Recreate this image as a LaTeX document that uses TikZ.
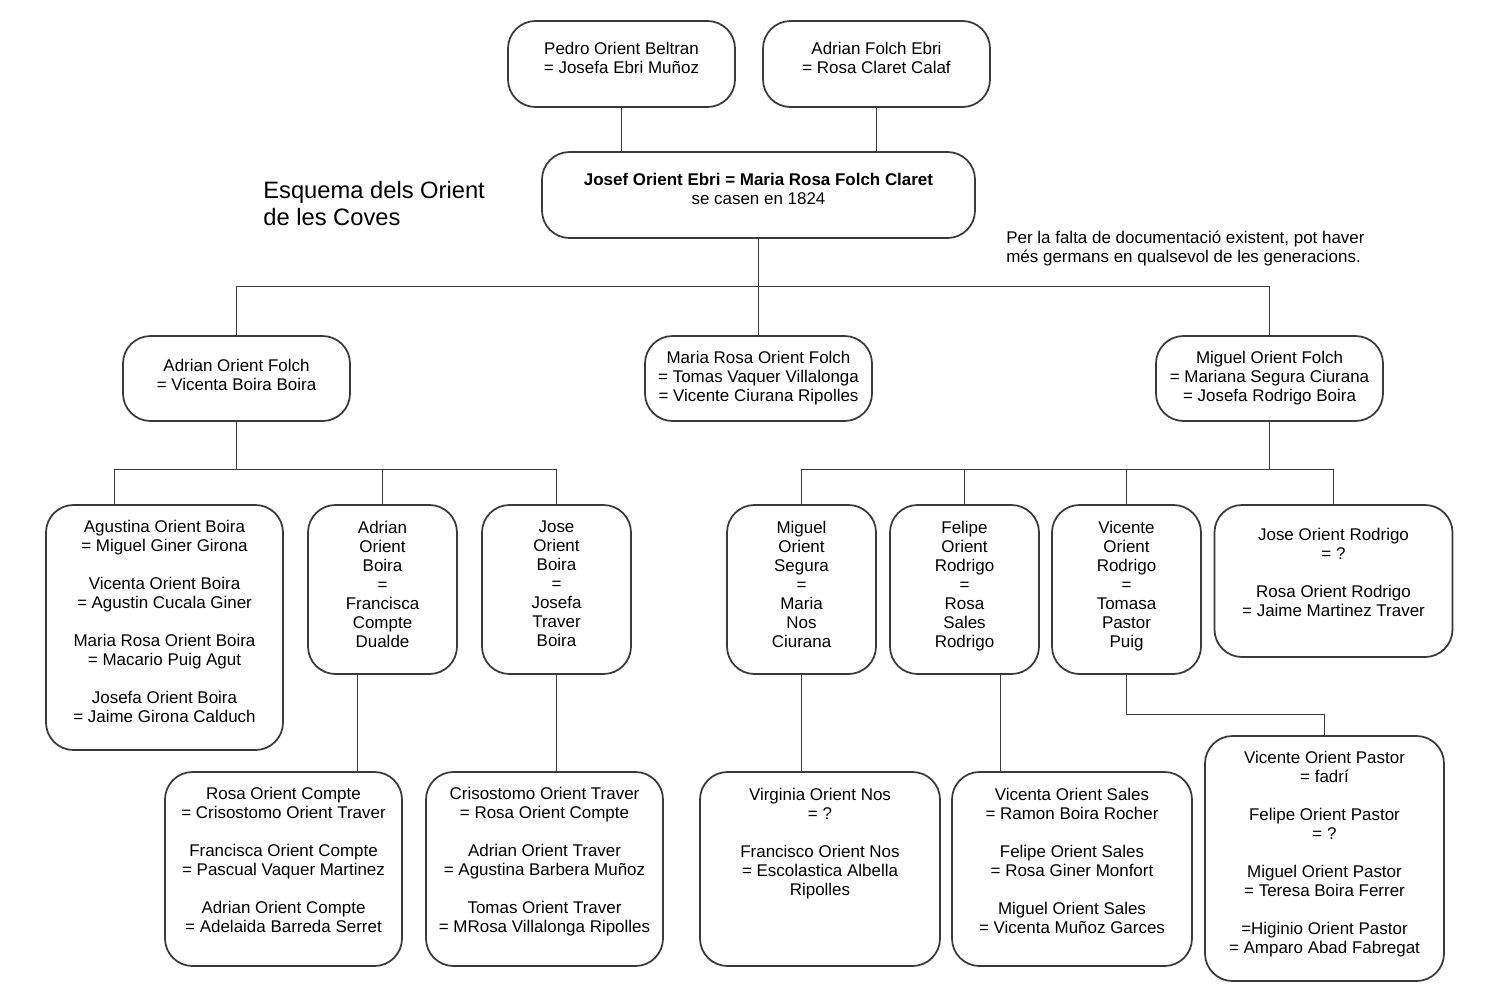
\documentclass[tikz,border=0pt]{standalone}
\usepackage{fontspec}
\setmainfont{Liberation Sans}
\definecolor{linegray}{HTML}{3A3A3A}
\tikzset{
  person/.style={draw=linegray, line width=0.35mm, rounded corners=5.5mm,
    align=center, inner sep=0pt, text depth=#1,
    font=\fontsize{9.65}{10.8}\selectfont},
  person/.default=2.4mm,
  link/.style={draw=linegray, line width=0.35mm},
  caption/.style={anchor=north west, align=left, inner sep=0pt}
}
\begin{document}
\begin{tikzpicture}[x=0.2mm, y=-0.2mm]
\useasboundingbox (0,0) rectangle (1500,1007);
% title and note
\node[caption, font=\fontsize{13.5}{15.3}\selectfont] (title) at (263,181) {Esquema dels Orient\\de les Coves};
\node[caption, font=\fontsize{9.65}{10.8}\selectfont] (note) at (1006,231) {Per la falta de documentació existent, pot haver\\més germans en qualsevol de les generacions.};
% grandparents
\node[person, minimum width=45.4mm, minimum height=17.2mm] (pedro) at (621.5,64) {Pedro Orient Beltran\\= Josefa Ebri Muñoz};
\node[person, minimum width=45.4mm, minimum height=17.2mm] (adrianfe) at (876.5,64) {Adrian Folch Ebri\\= Rosa Claret Calaf};
% couple
\node[person=2.6mm, minimum width=86.6mm, minimum height=17.2mm] (josef) at (758.5,195) {\textbf{Josef Orient Ebri = Maria Rosa Folch Claret}\\se casen en 1824};
% children
\node[person=1.6mm, minimum width=45.4mm, minimum height=17mm] (aof) at (236.5,378.5) {Adrian Orient Folch\\= Vicenta Boira Boira};
\node[person=1mm, minimum width=45.4mm, minimum height=17mm] (mariarosa) at (758.5,378.5) {Maria Rosa Orient Folch\\= Tomas Vaquer Villalonga\\= Vicente Ciurana Ripolles};
\node[person=1mm, minimum width=45.4mm, minimum height=17mm] (mof) at (1269.5,378.5) {Miguel Orient Folch\\= Mariana Segura Ciurana\\= Josefa Rodrigo Boira};
% grandchildren
\node[person=2.6mm, minimum width=47.4mm, minimum height=49mm] (agustina) at (164.5,627.5) {Agustina Orient Boira\\= Miguel Giner Girona\\[10.8pt]Vicenta Orient Boira\\= Agustin Cucala Giner\\[10.8pt]Maria Rosa Orient Boira\\= Macario Puig Agut\\[10.8pt]Josefa Orient Boira\\= Jaime Girona Calduch};
\node[person=2.2mm, minimum width=29.8mm, minimum height=33.8mm] (aob) at (382.5,589.5) {Adrian\\Orient\\Boira\\=\\Francisca\\Compte\\Dualde};
\node[person=2.2mm, minimum width=29.8mm, minimum height=33.8mm] (job) at (556.5,589.5) {Jose\\Orient\\Boira\\=\\Josefa\\Traver\\Boira};
\node[person=2.2mm, minimum width=29.8mm, minimum height=33.8mm] (mos) at (801.5,589.5) {Miguel\\Orient\\Segura\\=\\Maria\\Nos\\Ciurana};
\node[person=2.2mm, minimum width=29.8mm, minimum height=33.8mm] (felipe) at (964.5,589.5) {Felipe\\Orient\\Rodrigo\\=\\Rosa\\Sales\\Rodrigo};
\node[person=2.2mm, minimum width=29.8mm, minimum height=33.8mm] (vor) at (1126.5,589.5) {Vicente\\Orient\\Rodrigo\\=\\Tomasa\\Pastor\\Puig};
\node[person=3.6mm, minimum width=47.6mm, minimum height=30.4mm] (jor) at (1333.5,581) {Jose Orient Rodrigo\\= ?\\[10.8pt]Rosa Orient Rodrigo\\= Jaime Martinez Traver};
% great-grandchildren
\node[person=3.8mm, minimum width=47.4mm, minimum height=38.8mm] (rosa) at (283.5,869) {Rosa Orient Compte\\= Crisostomo Orient Traver\\[10.8pt]Francisca Orient Compte\\= Pascual Vaquer Martinez\\[10.8pt]Adrian Orient Compte\\= Adelaida Barreda Serret};
\node[person=3.8mm, minimum width=47.4mm, minimum height=38.8mm] (cris) at (544.5,869) {Crisostomo Orient Traver\\= Rosa Orient Compte\\[10.8pt]Adrian Orient Traver\\= Agustina Barbera Muñoz\\[10.8pt]Tomas Orient Traver\\= MRosa Villalonga Ripolles};
\node[person=11mm, minimum width=48mm, minimum height=38.8mm] (virginia) at (820,869) {Virginia Orient Nos\\= ?\\[10.8pt]Francisco Orient Nos\\= Escolastica Albella\\Ripolles};
\node[person=3.4mm, minimum width=48mm, minimum height=38.8mm] (vsales) at (1072,869) {Vicenta Orient Sales\\= Ramon Boira Rocher\\[10.8pt]Felipe Orient Sales\\= Rosa Giner Monfort\\[10.8pt]Miguel Orient Sales\\= Vicenta Muñoz Garces};
\node[person=2.6mm, minimum width=47.8mm, minimum height=49mm] (vpastor) at (1324.5,858.5) {Vicente Orient Pastor\\= fadrí\\[10.8pt]Felipe Orient Pastor\\= ?\\[10.8pt]Miguel Orient Pastor\\= Teresa Boira Ferrer\\[10.8pt]=Higinio Orient Pastor\\= Amparo Abad Fabregat};
% bars
\coordinate (bar1) at (758.5,286.5);
\coordinate (bar2) at (236.5,469.5);
\coordinate (bar3) at (1269.5,469.5);
% links
\draw[link] (pedro.south) -- (pedro.south |- josef.north);
\draw[link] (adrianfe.south) -- (adrianfe.south |- josef.north);
\draw[link] (josef.south) -- (mariarosa.north);
\draw[link] (aof.north) |- (bar1) -| (mof.north);
\draw[link] (aof.south) -- (bar2);
\draw[link] ([xshift=-10mm]agustina.north) |- (bar2) -| (job.north);
\draw[link] (aob.north) -- (aob.north |- bar2);
\draw[link] (mof.south) -- (bar3);
\draw[link] (mos.north) |- (bar3) -| (jor.north);
\draw[link] (felipe.north) -- (felipe.north |- bar3);
\draw[link] (vor.north) -- (vor.north |- bar3);
\draw[link] ([xshift=-5mm]aob.south) -- ([xshift=-5mm]aob.south |- rosa.north);
\draw[link] (job.south) -- (job.south |- cris.north);
\draw[link] (mos.south) -- (mos.south |- virginia.north);
\draw[link] ([xshift=7.2mm]felipe.south) -- ([xshift=7.2mm]felipe.south |- vsales.north);
\draw[link] (vor.south) -- ++(0,39.5) -| (vpastor.north);
\end{tikzpicture}
\end{document}
